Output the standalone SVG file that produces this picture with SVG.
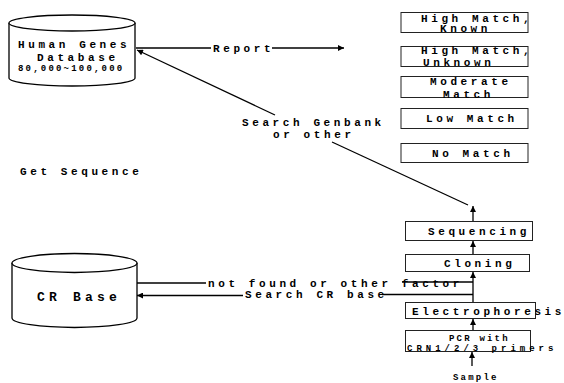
<svg xmlns="http://www.w3.org/2000/svg" width="564" height="383" viewBox="0 0 564 383">
  <style>
    .t { font-family: "Liberation Mono", "DejaVu Sans Mono", monospace; font-weight: bold; font-size: 11px; letter-spacing: 3.6px; fill: #000; }
    .s { font-size: 9px; letter-spacing: 2.2px; }
    .big { font-size: 13px; letter-spacing: 4.2px; }
    .box { fill: #fff; stroke: #222; stroke-width: 1; }
    .cyl { fill: #fff; stroke: #000; stroke-width: 1.3; }
    .ln { fill: none; stroke: #000; stroke-width: 1.3; }
  </style>
  <defs>
    <marker id="ah" viewBox="0 0 10 10" refX="10" refY="5" markerWidth="7" markerHeight="6" markerUnits="userSpaceOnUse" orient="auto">
      <path d="M0,0 L10,5 L0,10 Z" fill="#000"/>
    </marker>
  </defs>
  <rect width="564" height="383" fill="#fff"/>

  <!-- databases -->
  <g id="human-genes-db">
    <path class="cyl" d="M9,23 L9,78 A63,8 0 0 0 135,78 L135,23"/>
    <ellipse class="cyl" cx="72" cy="23" rx="63" ry="8"/>
    <text class="t" x="18" y="48">Human Genes</text>
    <text class="t" x="37" y="60.5">Database</text>
    <text class="t s" x="18" y="70.5">80,000~100,000</text>
  </g>

  <g id="cr-base">
    <path class="cyl" d="M12,263 L12,318 A62.5,9.5 0 0 0 137,318 L137,263"/>
    <ellipse class="cyl" cx="74.5" cy="263" rx="62.5" ry="9.5"/>
    <text class="t big" x="37" y="300.5">CR Base</text>
  </g>

  <g id="get-sequence">
    <text class="t" x="20" y="175">Get Sequence</text>
  </g>

  <!-- match outcome boxes -->
  <g id="high-known">
    <rect class="box" x="401" y="12.5" width="127" height="20"/>
    <text class="t" x="421" y="21.5">High Match,</text>
    <text class="t" x="440" y="32">Known</text>
  </g>
  <g id="high-unknown">
    <rect class="box" x="401" y="46.5" width="127" height="20"/>
    <text class="t" x="421" y="53.5">High Match,</text>
    <text class="t" x="423" y="66">Unknown</text>
  </g>
  <g id="moderate">
    <rect class="box" x="401" y="76.5" width="127" height="21"/>
    <text class="t" x="430" y="85">Moderate</text>
    <text class="t" x="443" y="97.5">Match</text>
  </g>
  <g id="low">
    <rect class="box" x="401" y="108.5" width="127" height="20"/>
    <text class="t" x="426" y="122">Low Match</text>
  </g>
  <g id="none">
    <rect class="box" x="401" y="143.5" width="127" height="19"/>
    <text class="t" x="432" y="157">No Match</text>
  </g>

  <!-- lab process steps -->
  <g id="sequencing">
    <rect class="box" x="405.5" y="221.5" width="127" height="19"/>
    <text class="t" x="428" y="234.5">Sequencing</text>
  </g>
  <g id="cloning">
    <rect class="box" x="405.5" y="254.5" width="124" height="17"/>
    <text class="t" x="444" y="267">Cloning</text>
  </g>
  <g id="electrophoresis">
    <rect class="box" x="405.5" y="302.5" width="130" height="16"/>
    <text class="t" x="412" y="314.5">Electrophoresis</text>
  </g>
  <g id="pcr">
    <rect class="box" x="405.5" y="330.5" width="125" height="21"/>
    <text class="t s" x="449" y="340.5">PCR with</text>
    <text class="t s" x="407" y="350.5" style="letter-spacing:4px">CRN1/2/3 primers</text>
  </g>
  <g id="sample">
    <text class="t s" x="453" y="380">Sample</text>
  </g>

  <!-- connectors -->
  <g id="connectors">
    <!-- report -->
    <line class="ln" x1="136" y1="48" x2="211" y2="48"/>
    <text class="t" x="213" y="52">Report</text>
    <line class="ln" x1="272" y1="48" x2="344" y2="48" marker-end="url(#ah)"/>

    <!-- sequencing -> database search -->
    <line class="ln" x1="473" y1="221" x2="473" y2="206" marker-end="url(#ah)"/>
    <path class="ln" d="M468,205 L332,142"/>
    <line class="ln" x1="275" y1="115" x2="137" y2="50" marker-end="url(#ah)"/>
    <text class="t" x="242" y="125.5">Search Genbank</text>
    <text class="t" x="273" y="138">or other</text>

    <!-- step arrows -->
    <line class="ln" x1="472" y1="366" x2="472" y2="352" marker-end="url(#ah)"/>
    <line class="ln" x1="473" y1="330" x2="473" y2="319" marker-end="url(#ah)"/>
    <line class="ln" x1="473" y1="302" x2="473" y2="272" marker-end="url(#ah)"/>
    <line class="ln" x1="473" y1="254" x2="473" y2="241" marker-end="url(#ah)"/>

    <!-- cr base links -->
    <line class="ln" x1="137" y1="283" x2="206" y2="283"/>
    <text class="t" x="208" y="286.5">not found or other factor</text>
    <line class="ln" x1="402" y1="282" x2="473" y2="282"/>
    <line class="ln" x1="473" y1="294.5" x2="382" y2="294.5"/>
    <text class="t" x="245" y="297.5">Search CR base</text>
    <line class="ln" x1="243" y1="295.5" x2="137" y2="295.5" marker-end="url(#ah)"/>
  </g>
</svg>
